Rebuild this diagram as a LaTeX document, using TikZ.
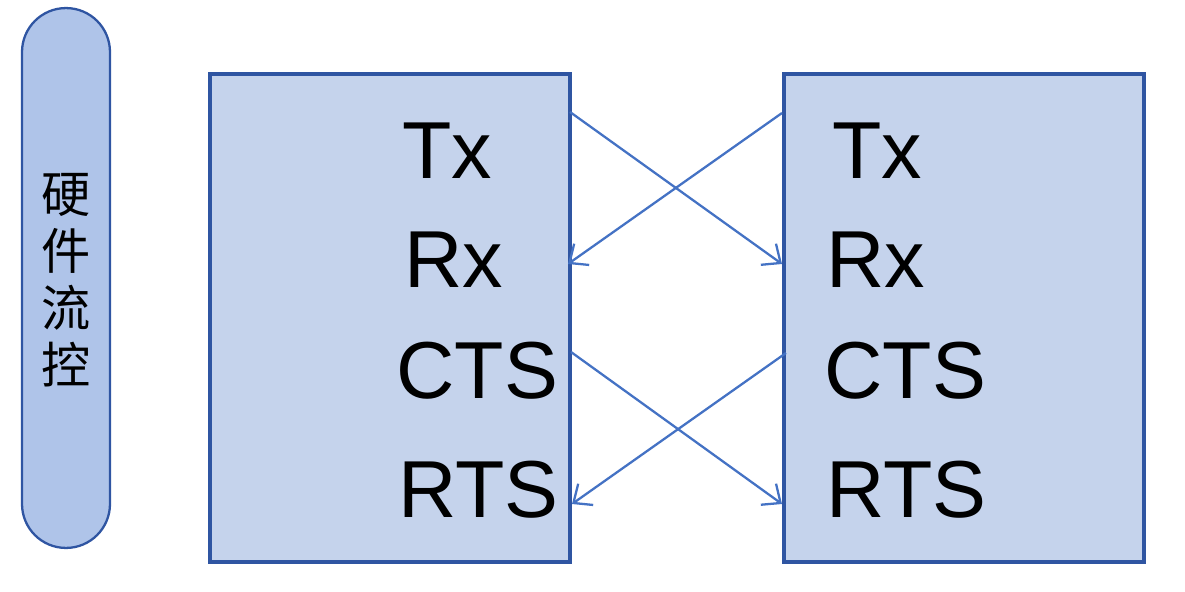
\documentclass[tikz,border=0pt]{standalone}
\usepackage{fontspec}
\setmainfont{Liberation Sans}
\newfontfamily\cjk{Noto Sans CJK SC}
\definecolor{boxfill}{RGB}{197,211,236}
\definecolor{pillfill}{RGB}{175,196,233}
\definecolor{edge}{RGB}{47,85,162}
\definecolor{wire}{RGB}{68,114,196}
\usetikzlibrary{arrows.meta,positioning}

\begin{document}
\begin{tikzpicture}[x=0.02cm,y=-0.02cm,
  pill/.style={draw=edge,line width=1.3pt,fill=pillfill,rounded corners=0.88cm,minimum width=1.76cm,minimum height=10.8cm,inner sep=0pt},
  uart/.style={draw=edge,line width=2.5pt,fill=boxfill,minimum width=7.2cm,minimum height=9.76cm,inner sep=0pt},
  pin/.style={anchor=base west,inner sep=0pt,font=\fontsize{46}{46}\selectfont},
  wirearrow/.style={-{Straight Barb[length=3mm,width=5.2mm]},line width=1.3pt,wire}
]
  \useasboundingbox (0,0) rectangle (1185,591);
  \node[pill] (side) at (66,278) {};
  \node[align=center,font=\cjk\fontsize{28}{32.5}\selectfont] (sidelbl) at (66,280) {硬\\件\\流\\控};
  \node[uart] (devA) at (390,318) {};
  \node[uart] (devB) at (964,318) {};
  % pin labels
  \node[pin] (atx)  at (402,178) {Tx};
  \node[pin] (arx)  at (404,287) {Rx};
  \node[pin] (acts) at (396,398) {CTS};
  \node[pin] (arts) at (398,517) {RTS};
  \node[pin] (btx)  at (832,178) {Tx};
  \node[pin] (brx)  at (826,287) {Rx};
  \node[pin] (bcts) at (824,398) {CTS};
  \node[pin] (brts) at (826,517) {RTS};
  % wire ends
  \coordinate (aout1) at (570,112);
  \coordinate (ain1)  at (568,264);
  \coordinate (aout2) at (571,352);
  \coordinate (ain2)  at (572,504);
  \coordinate (bout1) at (782,113);
  \coordinate (bin1)  at (782,264);
  \coordinate (bout2) at (786,353);
  \coordinate (bin2)  at (782,504);
  \draw[wirearrow] (aout1) -- (bin1);
  \draw[wirearrow] (bout1) -- (ain1);
  \draw[wirearrow] (aout2) -- (bin2);
  \draw[wirearrow] (bout2) -- (ain2);
\end{tikzpicture}
\end{document}
